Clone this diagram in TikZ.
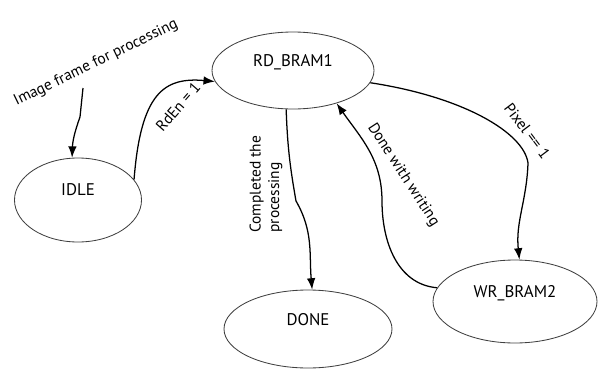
\documentclass[tikz,border=0pt]{standalone}
\usepackage{fontspec}
\setmainfont{PT Sans}
\usepackage{tikz}
\usetikzlibrary{arrows.meta,positioning,shapes}

\begin{document}
\begin{tikzpicture}[>={Latex[scale=1.15]},
  fsm/.style={draw=black!75,line width=0.6pt,ellipse,align=center,text depth=0.5cm,font=\fontsize{12}{14}\selectfont},
  lbl/.style={font=\fontsize{11}{13}\selectfont,inner sep=1pt},
  tr/.style={->,line width=0.9pt}]
\useasboundingbox (0,0) rectangle (14.95,9.225);
\node[fsm,minimum width=3.175cm,minimum height=2.1cm] (idle) at (1.95,4.225) {IDLE};
\node[fsm,minimum width=4.05cm,minimum height=1.925cm] (rd) at (7.325,7.4625) {RD\_BRAM1};
\node[fsm,minimum width=4.2cm,minimum height=1.95cm] (done) at (7.7,1.0) {DONE};
\node[fsm,minimum width=4.1cm,minimum height=2.075cm] (wr) at (12.875,1.6875) {WR\_BRAM2};
\coordinate (frm) at (2.075,7.025);
\node[lbl,rotate=26] (frmlbl) at (2.4,7.65) {Image frame for processing};
\draw[tr] (frm) -- (2.0,6.3) to[out=-110,in=88] (idle.98);
\draw[tr] (idle.20) .. controls (3.52,6.9) and (4.1,7.3) .. (rd.188);
\node[lbl,rotate=49] (rdlbl) at (4.45,6.55) {RdEn = 1};
\draw[tr] (rd.260) to[out=-88,in=100] (7.4,4.2) to[out=-60,in=95] (done.84);
\node[lbl,rotate=90,align=left] (cmplbl) at (6.65,4.62) {Completed the\\processing};
\draw[tr] (rd.-9) .. controls (11.6,6.8) and (13.1,5.9) .. (13.2,5.15) to[out=-92,in=96] (wr.84);
\node[lbl,rotate=-53] (pxlbl) at (13.18,5.95) {Pixel == 1};
\draw[tr] (wr.170) to[out=175,in=-90] (9.55,4.2) to[out=90,in=-55] (rd.-37);
\node[lbl,rotate=-57] (wrlbl) at (10.08,4.85) {Done with writing};
\end{tikzpicture}
\end{document}
